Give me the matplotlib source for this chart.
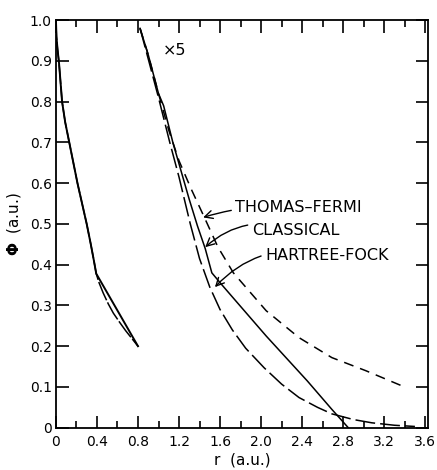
import numpy as np
import matplotlib
matplotlib.use('Agg')
import matplotlib.pyplot as plt
from matplotlib.ticker import MultipleLocator

# inner region, r < 0.8 (unscaled)
r_hf_in = [0.0, 0.005, 0.015, 0.03, 0.06, 0.09, 0.13, 0.17, 0.21, 0.255, 0.30, 0.34, 0.37, 0.393, 0.80]
phi_hf_in = [1.0, 0.96, 0.93, 0.895, 0.80, 0.75, 0.70, 0.65, 0.60, 0.55, 0.50, 0.45, 0.41, 0.378, 0.20]
r_cl_in = [0.0, 0.005, 0.015, 0.03, 0.06, 0.09, 0.13, 0.17, 0.21, 0.255, 0.30, 0.34, 0.37, 0.393,
           0.42, 0.46, 0.51, 0.56, 0.62, 0.68, 0.74, 0.80]
phi_cl_in = [1.0, 0.96, 0.93, 0.895, 0.80, 0.75, 0.70, 0.65, 0.60, 0.55, 0.50, 0.45, 0.41, 0.378,
             0.356, 0.331, 0.304, 0.281, 0.259, 0.238, 0.219, 0.20]

# outer region, r > 0.8 (x5)
r_hf = [0.82, 0.90, 1.00, 1.05, 1.14, 1.22, 1.30, 1.38, 1.455, 1.52, 1.62, 2.05, 2.45, 2.69, 2.85]
phi_hf = [0.98, 0.915, 0.82, 0.79, 0.70, 0.63, 0.56, 0.495, 0.44, 0.38, 0.35, 0.225, 0.115, 0.045, 0.0]
r_cl = [0.82, 0.90, 1.00, 1.11, 1.20, 1.31, 1.40, 1.50, 1.60, 1.72, 1.85, 2.03, 2.20, 2.37, 2.55, 2.69, 2.90, 3.08, 3.30, 3.50]
phi_cl = [0.98, 0.905, 0.81, 0.70, 0.615, 0.50, 0.415, 0.345, 0.29, 0.24, 0.195, 0.147, 0.107, 0.074, 0.05, 0.034, 0.02, 0.012, 0.006, 0.003]
r_tf = [0.82, 0.90, 1.00, 1.10, 1.20, 1.32, 1.44, 1.58, 1.73, 2.05, 2.37, 2.69, 3.02, 3.37]
phi_tf = [0.98, 0.915, 0.82, 0.73, 0.655, 0.585, 0.52, 0.443, 0.38, 0.287, 0.221, 0.172, 0.14, 0.103]

fig = plt.figure(figsize=(4.37, 4.70), dpi=100)
ax = fig.add_axes([0.128, 0.09, 0.852, 0.867])

lw = 1.1
ax.plot(r_hf_in, phi_hf_in, color='black', lw=lw + 0.3)
ax.plot(r_cl_in, phi_cl_in, color='black', lw=lw, dashes=(13, 1.5))
ax.plot(r_hf, phi_hf, color='black', lw=lw)
ax.plot(r_cl, phi_cl, color='black', lw=lw, dashes=(13, 3.3))
ax.plot(r_tf, phi_tf, color='black', lw=lw, dashes=(6.5, 4.6))

ax.set_xlim(0, 3.63)
ax.set_ylim(0, 1.0)
ax.xaxis.set_minor_locator(MultipleLocator(0.2))
ax.set_xticks(np.arange(0, 3.61, 0.4))
ax.set_xticklabels(['0', '0.4', '0.8', '1.2', '1.6', '2.0', '2.4', '2.8', '3.2', '3.6'])
ax.set_yticks(np.arange(0, 1.01, 0.1))
ax.set_yticklabels(['0', '0.1', '0.2', '0.3', '0.4', '0.5', '0.6', '0.7', '0.8', '0.9', '1.0'])
ax.tick_params(which='both', direction='in', top=True, right=True, labelsize=10, width=1.2)
ax.tick_params(which='major', length=9, pad=3)
ax.tick_params(which='minor', length=5)
ax.tick_params(axis='x', pad=5)
for s in ax.spines.values():
    s.set_linewidth(1.3)

ax.set_xlabel('r  (a.u.)', fontsize=11, labelpad=3)
ax.set_ylabel(r'$\mathbf{\Phi}$  (a.u.)', fontsize=11, labelpad=5)

ax.text(1.04, 0.926, '×5', fontsize=11.5, va='center', ha='left')

arrow = dict(arrowstyle='->,head_length=0.5,head_width=0.25', color='black', lw=1.0, shrinkA=1, shrinkB=0)
ax.annotate('THOMAS–FERMI', xy=(1.435, 0.516), xytext=(1.75, 0.541), fontsize=11.5,
            va='center', ha='left', arrowprops=dict(arrow, connectionstyle='arc3,rad=0.1'))
ax.annotate('CLASSICAL', xy=(1.455, 0.443), xytext=(1.91, 0.485), fontsize=11.5,
            va='center', ha='left', arrowprops=dict(arrow, connectionstyle='arc3,rad=0.3'))
ax.annotate('HARTREE-FOCK', xy=(1.55, 0.345), xytext=(2.04, 0.423), fontsize=11.5,
            va='center', ha='left', arrowprops=dict(arrow, connectionstyle='arc3,rad=0.3'))

fig.savefig('out.png', dpi=100)
